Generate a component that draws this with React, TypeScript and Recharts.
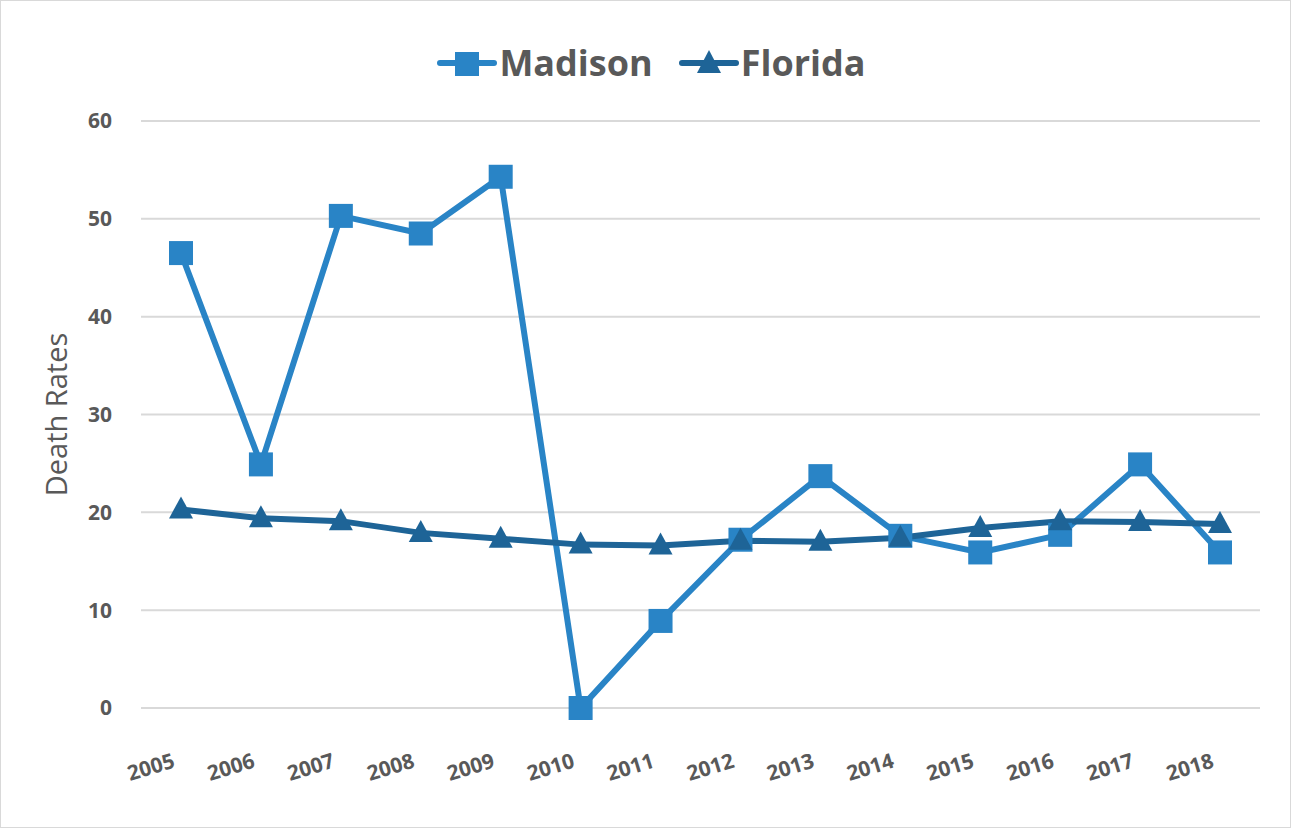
import { LineChart, Line, XAxis, YAxis, CartesianGrid } from "recharts"

const years = ["2005", "2006", "2007", "2008", "2009", "2010", "2011", "2012", "2013", "2014", "2015", "2016", "2017", "2018"]
const madison = [46.5, 24.9, 50.3, 48.5, 54.3, 0, 8.9, 17.2, 23.7, 17.6, 15.9, 17.7, 24.9, 15.9]
const florida = [20.3, 19.4, 19.1, 17.9, 17.3, 16.7, 16.6, 17.1, 17.0, 17.4, 18.4, 19.1, 19.0, 18.8]
const yTicks = [0, 10, 20, 30, 40, 50, 60]

const MADISON = "#2984C6"
const FLORIDA = "#1E6497"
const TEXT = "#595959"
const FONT = "'Open Sans', sans-serif"

const data = years.map((year, i) => ({ year, Madison: madison[i], Florida: florida[i] }))

function SquareDot(props: any) {
  const { cx, cy } = props
  if (cx == null || cy == null) return null
  return <rect x={cx - 12} y={cy - 12} width={24} height={24} fill={MADISON} />
}

function TriangleDot(props: any) {
  const { cx, cy } = props
  if (cx == null || cy == null) return null
  return <path d={`M${cx},${cy - 13} L${cx + 12},${cy + 9} L${cx - 12},${cy + 9} Z`} fill={FLORIDA} />
}

function YearTick(props: any) {
  const { x, payload } = props
  return (
    <g transform={`translate(${x - 5},766)`}>
      <text x={0} y={0} textAnchor="end" transform="rotate(-17)" fill={TEXT}
        style={{ fontFamily: FONT, fontWeight: 700, fontSize: 21 }}>
        {payload.value}
      </text>
    </g>
  )
}

function LegendBox() {
  const item = (name: string, color: string, square: boolean) => (
    <div style={{ display: "flex", alignItems: "center", marginRight: 26 }}>
      <svg width={60} height={30}>
        <line x1={3} y1={15} x2={57} y2={15} stroke={color} strokeWidth={6} strokeLinecap="round" />
        {square
          ? <rect x={18} y={4} width={24} height={24} fill={color} />
          : <path d="M30,2 L42,25 L18,25 Z" fill={color} />}
      </svg>
      <span style={{ fontFamily: FONT, fontWeight: 700, fontSize: 36, color: TEXT, marginLeft: 2 }}>{name}</span>
    </div>
  )
  return (
    <div style={{ position: "absolute", left: 0, top: 37, width: 1291, display: "flex", justifyContent: "center", paddingLeft: 36, boxSizing: "border-box" }}>
      {item("Madison", MADISON, true)}
      {item("Florida", FLORIDA, false)}
    </div>
  )
}

export default function App() {
  return (
    <div style={{ position: "absolute", left: 0, top: 0, width: 1291, height: 828, background: "#fff", border: "1px solid #d9d9d9", boxSizing: "border-box" }}>
      <LegendBox />
      <LineChart width={1289} height={826} data={data} margin={{ top: 120, right: 30, left: 50, bottom: 39 }}>
        <CartesianGrid vertical={false} stroke="#d9d9d9" strokeWidth={2} />
        <XAxis dataKey="year" axisLine={false} tickLine={false} height={80} tick={<YearTick />} interval={0} padding={{ left: 40, right: 40 }} />
        <YAxis
          domain={[0, 60]}
          ticks={yTicks}
          width={90}
          axisLine={false}
          tickLine={false}
          tickMargin={23}
          tick={{ fill: TEXT, fontFamily: FONT, fontWeight: 700, fontSize: 21 }}
          label={{ value: "Death Rates", angle: -90, position: "insideLeft", offset: 6, style: { textAnchor: "middle", fill: TEXT, fontFamily: FONT, fontSize: 29 } }}
        />
        <Line dataKey="Madison" stroke={MADISON} strokeWidth={6} dot={<SquareDot />} isAnimationActive={false} />
        <Line dataKey="Florida" stroke={FLORIDA} strokeWidth={6} dot={<TriangleDot />} isAnimationActive={false} />
      </LineChart>
    </div>
  )
}
